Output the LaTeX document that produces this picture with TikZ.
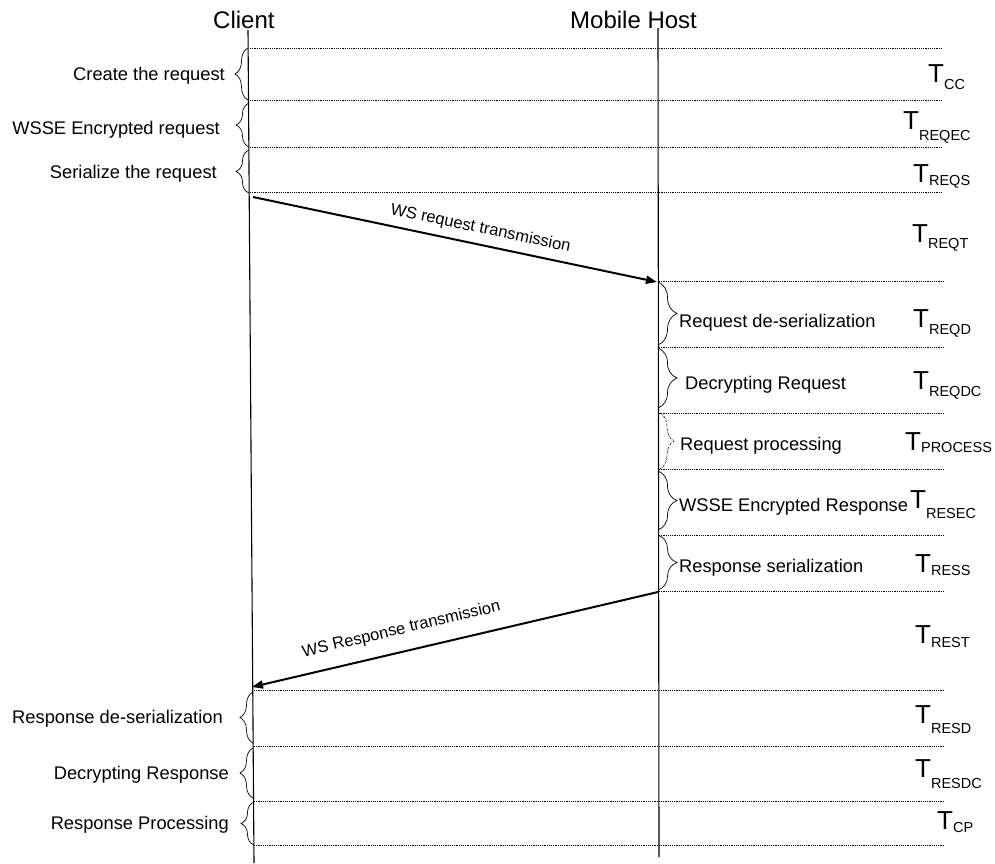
\documentclass[tikz,border=0pt]{standalone}
\usepackage{fontspec}
\setmainfont{Liberation Sans}
\usetikzlibrary{decorations.pathreplacing,arrows.meta}
\newcommand\Tsub[2]{{\fontsize{26}{26}\selectfont T}\raisebox{-#2pt}{\fontsize{14.5}{14.5}\selectfont #1}}
\begin{document}
\begin{tikzpicture}[x=1pt,y=-1pt,
  lifeline/.style={line width=1.1pt},
  sep/.style={line width=0.8pt, dash pattern=on 1.2pt off 1pt},
  lbrace/.style={decorate, decoration={brace, amplitude=13pt}, line width=0.7pt},
  rbrace/.style={decorate, decoration={brace, amplitude=19pt}, line width=0.7pt},
  pbrace/.style={decorate, decoration={brace, amplitude=14pt}, line width=0.6pt, dash pattern=on 2pt off 1pt on 0.6pt off 1pt},
  lbl/.style={inner sep=0, font=\fontsize{18.3}{20}\selectfont},
  ttl/.style={inner sep=0, font=\fontsize{24}{26}\selectfont, anchor=base west},
  tlab/.style={inner sep=0, anchor=base west},
  msg/.style={line width=2pt, -{Triangle[length=11pt,width=8pt]}},
  msglbl/.style={inner sep=0, font=\fontsize{16.5}{18}\selectfont, sloped}
]
\useasboundingbox (0,0) rectangle (995,863);
% titles
\node[ttl] (client) at (213,28) {Client};
\node[ttl] (host) at (570,28) {Mobile Host};
% lifelines
\coordinate (cTop) at (248,30);
\coordinate (cBot) at (254,863);
\coordinate (hTop) at (658,28);
\coordinate (hBot) at (659,857);
\draw[lifeline] (cTop) -- (cBot);
\draw[lifeline] (hTop) -- (hBot);
% separators
\foreach \y in {48,100,147,192} \draw[sep] (250,\y) -- (943,\y);
\foreach \y in {281,347,413,469,535,591} \draw[sep] (659,\y) -- (943,\y);
\foreach \y in {690,746,801,845} \draw[sep] (254,\y) -- (943,\y);
% client braces
\draw[lbrace] (248,100) -- (248,48);
\draw[lbrace] (249,147) -- (249,103);
\draw[lbrace] (249,193) -- (249,150);
\draw[lbrace] (253,743) -- (253,692);
\draw[lbrace] (253,798) -- (253,748);
\draw[lbrace] (254,845) -- (254,802);
% host braces
\draw[rbrace] (658,282) -- (658,345);
\draw[rbrace] (658,348) -- (658,408);
\draw[pbrace] (660,413) -- (660,469);
\draw[rbrace] (658,471) -- (658,530);
\draw[rbrace] (658,535) -- (658,590);
% client labels
\node[lbl, anchor=base east] (l1) at (225,80) {Create the request};
\node[lbl, anchor=base east] (l2) at (220,134) {WSSE Encrypted request};
\node[lbl, anchor=base east] (l3) at (217,178) {Serialize the request};
\node[lbl, anchor=base east] (l4) at (223,723) {Response de-serialization};
\node[lbl, anchor=base east] (l5) at (229,779) {Decrypting Response};
\node[lbl, anchor=base east] (l6) at (229,829) {Response Processing};
% host labels
\node[lbl, anchor=base west] (h1) at (679,327) {Request de-serialization};
\node[lbl, anchor=base west] (h2) at (685,389) {Decrypting Request};
\node[lbl, anchor=base west] (h3) at (680,450) {Request processing};
\node[lbl, anchor=base west] (h4) at (679,511) {WSSE Encrypted Response};
\node[lbl, anchor=base west] (h5) at (679,572) {Response serialization};
% time labels
\node[tlab] (tcc) at (928,82) {\Tsub{CC}{7}};
\node[tlab] (treqec) at (903,129) {\Tsub{REQEC}{11}};
\node[tlab] (treqs) at (913,182) {\Tsub{REQS}{3}};
\node[tlab] (treqt) at (912,242) {\Tsub{REQT}{6}};
\node[tlab] (treqd) at (913,327) {\Tsub{REQD}{7}};
\node[tlab] (treqdc) at (913,389) {\Tsub{REQDC}{7}};
\node[tlab] (tproc) at (905,450) {\Tsub{PROCESS}{2}};
\node[tlab] (tresec) at (910,508) {\Tsub{RESEC}{10}};
\node[tlab] (tress) at (915,572) {\Tsub{RESS}{3}};
\node[tlab] (trest) at (915,643) {\Tsub{REST}{4}};
\node[tlab] (tresd) at (915,723) {\Tsub{RESD}{10}};
\node[tlab] (tresdc) at (915,777) {\Tsub{RESDC}{11}};
\node[tlab] (tcp) at (937,829) {\Tsub{CP}{3}};
% messages
\coordinate (reqS) at (253,197);
\coordinate (reqE) at (657,282);
\coordinate (resS) at (658,592);
\coordinate (resE) at (252,687);
\draw[msg] (reqS) -- node[msglbl, above=7pt, pos=0.555] (reqlbl) {WS request transmission} (reqE);
\draw[msg] (resS) -- node[msglbl, above=13pt, pos=0.62] (reslbl) {WS Response transmission} (resE);
\end{tikzpicture}
\end{document}
